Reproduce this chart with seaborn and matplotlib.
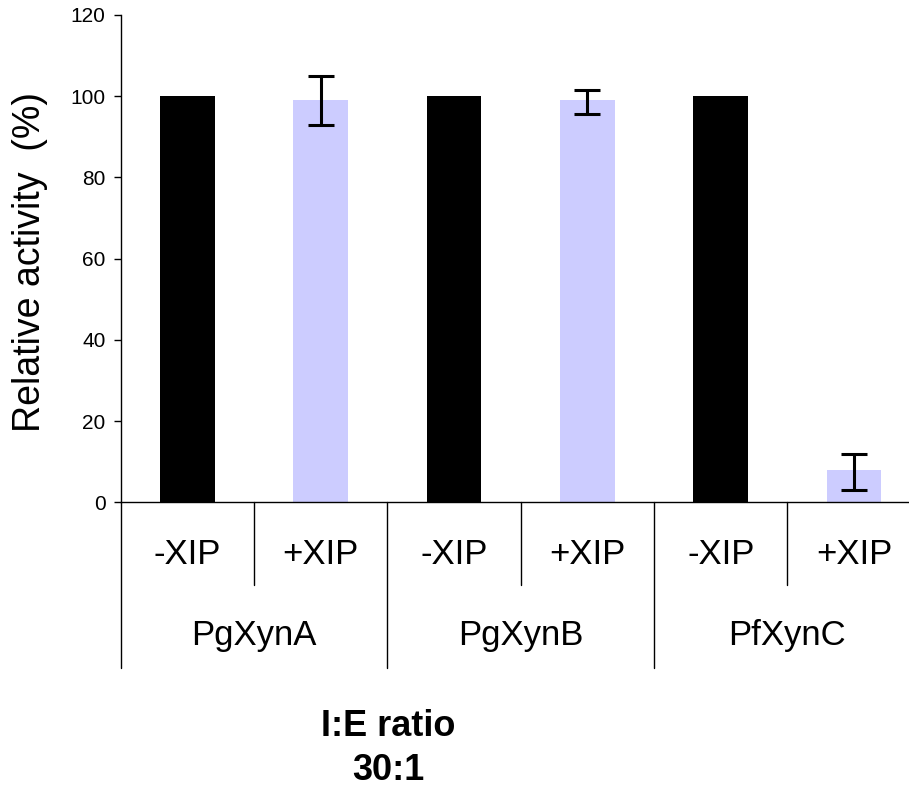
import numpy as np
import pandas as pd
import matplotlib
matplotlib.use("Agg")
import matplotlib.pyplot as plt
import matplotlib.transforms as mtransforms
import seaborn as sns

# ---- data ----
enzymes = ["PgXynA", "PgXynA", "PgXynB", "PgXynB", "PfXynC", "PfXynC"]
conditions = ["-XIP", "+XIP", "-XIP", "+XIP", "-XIP", "+XIP"]
activity = [100, 99, 100, 99, 100, 8]
err_low = [0, 6, 0, 3.5, 0, 5]
err_high = [0, 6, 0, 2.5, 0, 4]
group_labels = ["PgXynA", "PgXynB", "PfXynC"]
yticks = [0, 20, 40, 60, 80, 100, 120]

sns.set_style("ticks")
plt.rcParams["font.family"] = ["Liberation Sans", "DejaVu Sans"]
plt.rcParams["text.color"] = "black"
plt.rcParams["ytick.color"] = "black"
plt.rcParams["ytick.labelcolor"] = "black"

fig = plt.figure(figsize=(9.09, 7.9), dpi=100)
ax = fig.add_axes([120.7 / 909, 1 - 502.3 / 790, 800 / 909, 487.3 / 790])

df = pd.DataFrame({
    "bar": [f"{e} {c}" for e, c in zip(enzymes, conditions)],
    "condition": conditions,
    "activity": activity,
})
sns.barplot(data=df, x="bar", y="activity", hue="condition",
            palette={"-XIP": "black", "+XIP": "#CCCCFF"},
            dodge=False, width=0.41, saturation=1, legend=False,
            linewidth=0, edgecolor="none", ax=ax, errorbar=None)

xs = np.arange(len(activity))
mask = np.array([(l > 0 or h > 0) for l, h in zip(err_low, err_high)])
ax.errorbar(xs[mask], np.array(activity)[mask],
            yerr=[np.array(err_low)[mask], np.array(err_high)[mask]],
            fmt="none", ecolor="black", elinewidth=2.2, capsize=9.5, capthick=2.2)

ax.set_ylim(0, 120)
ax.set_yticks(yticks)
ax.set_xlim(-0.5, len(activity) - 0.5)
ax.set_xlabel("")
ax.set_ylabel("")
ax.tick_params(axis="x", length=0, labelbottom=False)
ax.tick_params(axis="y", length=5, width=1, labelsize=15, pad=6, colors="black")
for s in ["top", "right"]:
    ax.spines[s].set_visible(False)
for s in ["left", "bottom"]:
    ax.spines[s].set_linewidth(1)
    ax.spines[s].set_color("black")

trans = mtransforms.blended_transform_factory(ax.transData, ax.transAxes)
# sub-separators
for i in range(len(group_labels)):
    x = 2 * i + 0.5
    ax.plot([x, x], [0, -0.170], transform=trans, color="black", lw=1, clip_on=False)
# group separators
for i in range(len(group_labels) + 1):
    x = 2 * i - 0.5
    ax.plot([x, x], [0, -0.3407], transform=trans, color="black", lw=1, clip_on=False)

for i, c in enumerate(conditions):
    ax.text(i, -0.108, c, transform=trans, ha="center", va="center", fontsize=25,
            color="black")
for i, g in enumerate(group_labels):
    ax.text(2 * i + 0.5, -0.274, g, transform=trans, ha="center", va="center", fontsize=25,
            color="black")

fig.text(30 / 909, 1 - 262 / 790, "Relative activity  (%)", rotation=90,
         ha="center", va="center", fontsize=27, color="black")

fig.text(388 / 909, 1 - 727 / 790, "I:E ratio", ha="center", va="center",
         fontsize=26, fontweight="bold", color="black")
fig.text(388 / 909, 1 - 771 / 790, "30:1", ha="center", va="center",
         fontsize=26, fontweight="bold", color="black")

fig.savefig("out.png", dpi=100)
